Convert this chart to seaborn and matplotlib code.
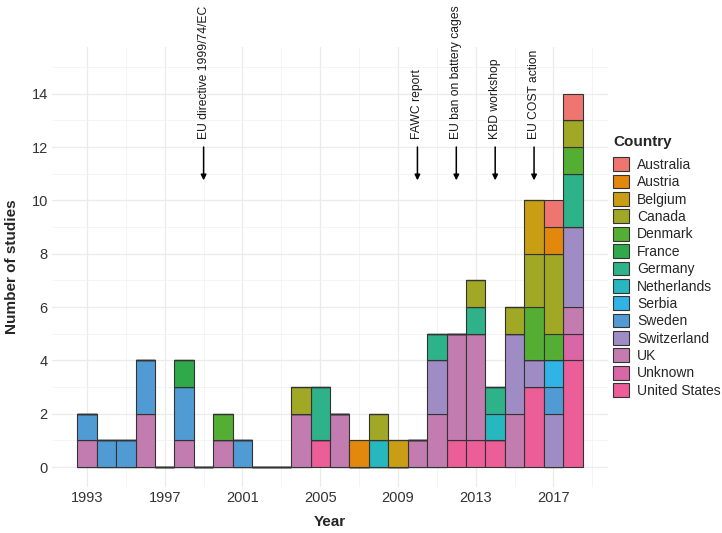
import matplotlib
matplotlib.use("Agg")
import matplotlib.pyplot as plt
import pandas as pd
import seaborn as sns

countries = ["Australia", "Austria", "Belgium", "Canada", "Denmark", "France",
             "Germany", "Netherlands", "Serbia", "Sweden", "Switzerland", "UK",
             "Unknown", "United States"]
colors = ["#EF7571", "#E2880C", "#C99E14", "#A1A826", "#55AE34", "#30A94B",
          "#2DB28A", "#26B8BE", "#30B4E6", "#519BD5", "#A08CC4", "#C27CB0",
          "#D966A6", "#EB5E98"]

# one row per (year, country) with number of studies
study_year = [1993, 1993, 1994, 1995, 1996, 1996, 1998, 1998, 1998, 2000, 2000,
              2001, 2004, 2004, 2005, 2005, 2006, 2007, 2008, 2008, 2009, 2010,
              2011, 2011, 2011, 2012, 2012, 2013, 2013, 2013, 2013,
              2014, 2014, 2014, 2015, 2015, 2015,
              2016, 2016, 2016, 2016, 2016,
              2017, 2017, 2017, 2017, 2017, 2017, 2017,
              2018, 2018, 2018, 2018, 2018, 2018, 2018, 2018]
study_country = ["UK", "Sweden", "Sweden", "Sweden", "UK", "Sweden", "UK", "Sweden", "France",
                 "UK", "Denmark", "Sweden", "UK", "Canada", "United States", "Germany",
                 "UK", "Austria", "Netherlands", "Canada", "Belgium", "UK",
                 "UK", "Switzerland", "Germany", "United States", "UK",
                 "United States", "UK", "Germany", "Canada",
                 "United States", "Netherlands", "Germany", "UK", "Switzerland", "Canada",
                 "United States", "Switzerland", "Denmark", "Canada", "Belgium",
                 "Switzerland", "Sweden", "Serbia", "Denmark", "Canada", "Austria", "Australia",
                 "United States", "Unknown", "UK", "Switzerland", "Germany", "Denmark",
                 "Canada", "Australia"]
study_count = [1, 1, 1, 1, 2, 2, 1, 2, 1, 1, 1,
               1, 2, 1, 1, 2, 2, 1, 1, 1, 1, 1,
               2, 2, 1, 1, 4, 1, 4, 1, 1,
               1, 1, 1, 2, 3, 1,
               3, 1, 2, 2, 2,
               2, 1, 1, 1, 3, 1, 1,
               4, 1, 1, 3, 2, 1, 1, 1]

event_years = [1999, 2010, 2012, 2014, 2016]
event_labels = ["EU directive 1999/74/EC", "FAWC report", "EU ban on battery cages",
                "KBD workshop", "EU COST action"]

df = pd.DataFrame({"year": study_year, "country": study_country, "n": study_count})

sns.set_style("white")
plt.rcParams["font.family"] = ["Liberation Sans", "DejaVu Sans"]

fig = plt.figure(figsize=(7.22, 5.33), dpi=100)
ax = fig.add_axes([0.072, 0.0863, 0.770, 0.8255])

sns.histplot(data=df, x="year", hue="country", weights="n", multiple="stack",
             discrete=True, hue_order=countries, palette=colors, alpha=1,
             edgecolor="#333333", linewidth=0.8, ax=ax)

ax.set_xlim(1991.2, 2019.8)
ax.set_ylim(-0.75, 15.75)
ax.set_xticks(range(1993, 2018, 4))
ax.set_xticks(range(1995, 2020, 4), minor=True)
ax.set_yticks(range(0, 15, 2))
ax.set_yticks(range(1, 16, 2), minor=True)
ax.grid(True, which="major", color="#EBEBEB", linewidth=0.9)
ax.grid(True, which="minor", color="#F3F3F3", linewidth=0.6)
ax.set_axisbelow(True)
for s in ax.spines.values():
    s.set_visible(False)
ax.tick_params(which="both", length=0, labelsize=10.5, labelcolor="#333333", pad=3)

ax.set_xlabel("Year", fontsize=11, fontweight="bold", va="center")
ax.set_ylabel("Number of studies", fontsize=11, fontweight="bold", va="center")
ax.xaxis.set_label_coords(0.5, -0.0795)
ax.yaxis.set_label_coords(-0.072, 0.5)

for yr, lab in zip(event_years, event_labels):
    ax.annotate("", xy=(yr, 10.75), xytext=(yr, 12),
                arrowprops=dict(arrowstyle="-|>", color="black", lw=1.1,
                                shrinkA=0, shrinkB=0, mutation_scale=8))
    ax.text(yr, 12.3, lab, rotation=90, ha="center", va="bottom", fontsize=8.7,
            color="#1a1a1a", clip_on=False)

sns.move_legend(ax, "upper left", bbox_to_anchor=(613 / 722, 1 - 135 / 533),
                bbox_transform=fig.transFigure, frameon=False, title="Country",
                fontsize=10, title_fontproperties={"weight": "bold", "size": 11},
                alignment="left", handlelength=1.15, handleheight=1.15,
                labelspacing=0.2, handletextpad=0.6, borderpad=0, borderaxespad=0)
# a bit more room between the legend title and the keys
ax.get_legend()._legend_box.sep = 6

fig.savefig("out.png", dpi=100)
